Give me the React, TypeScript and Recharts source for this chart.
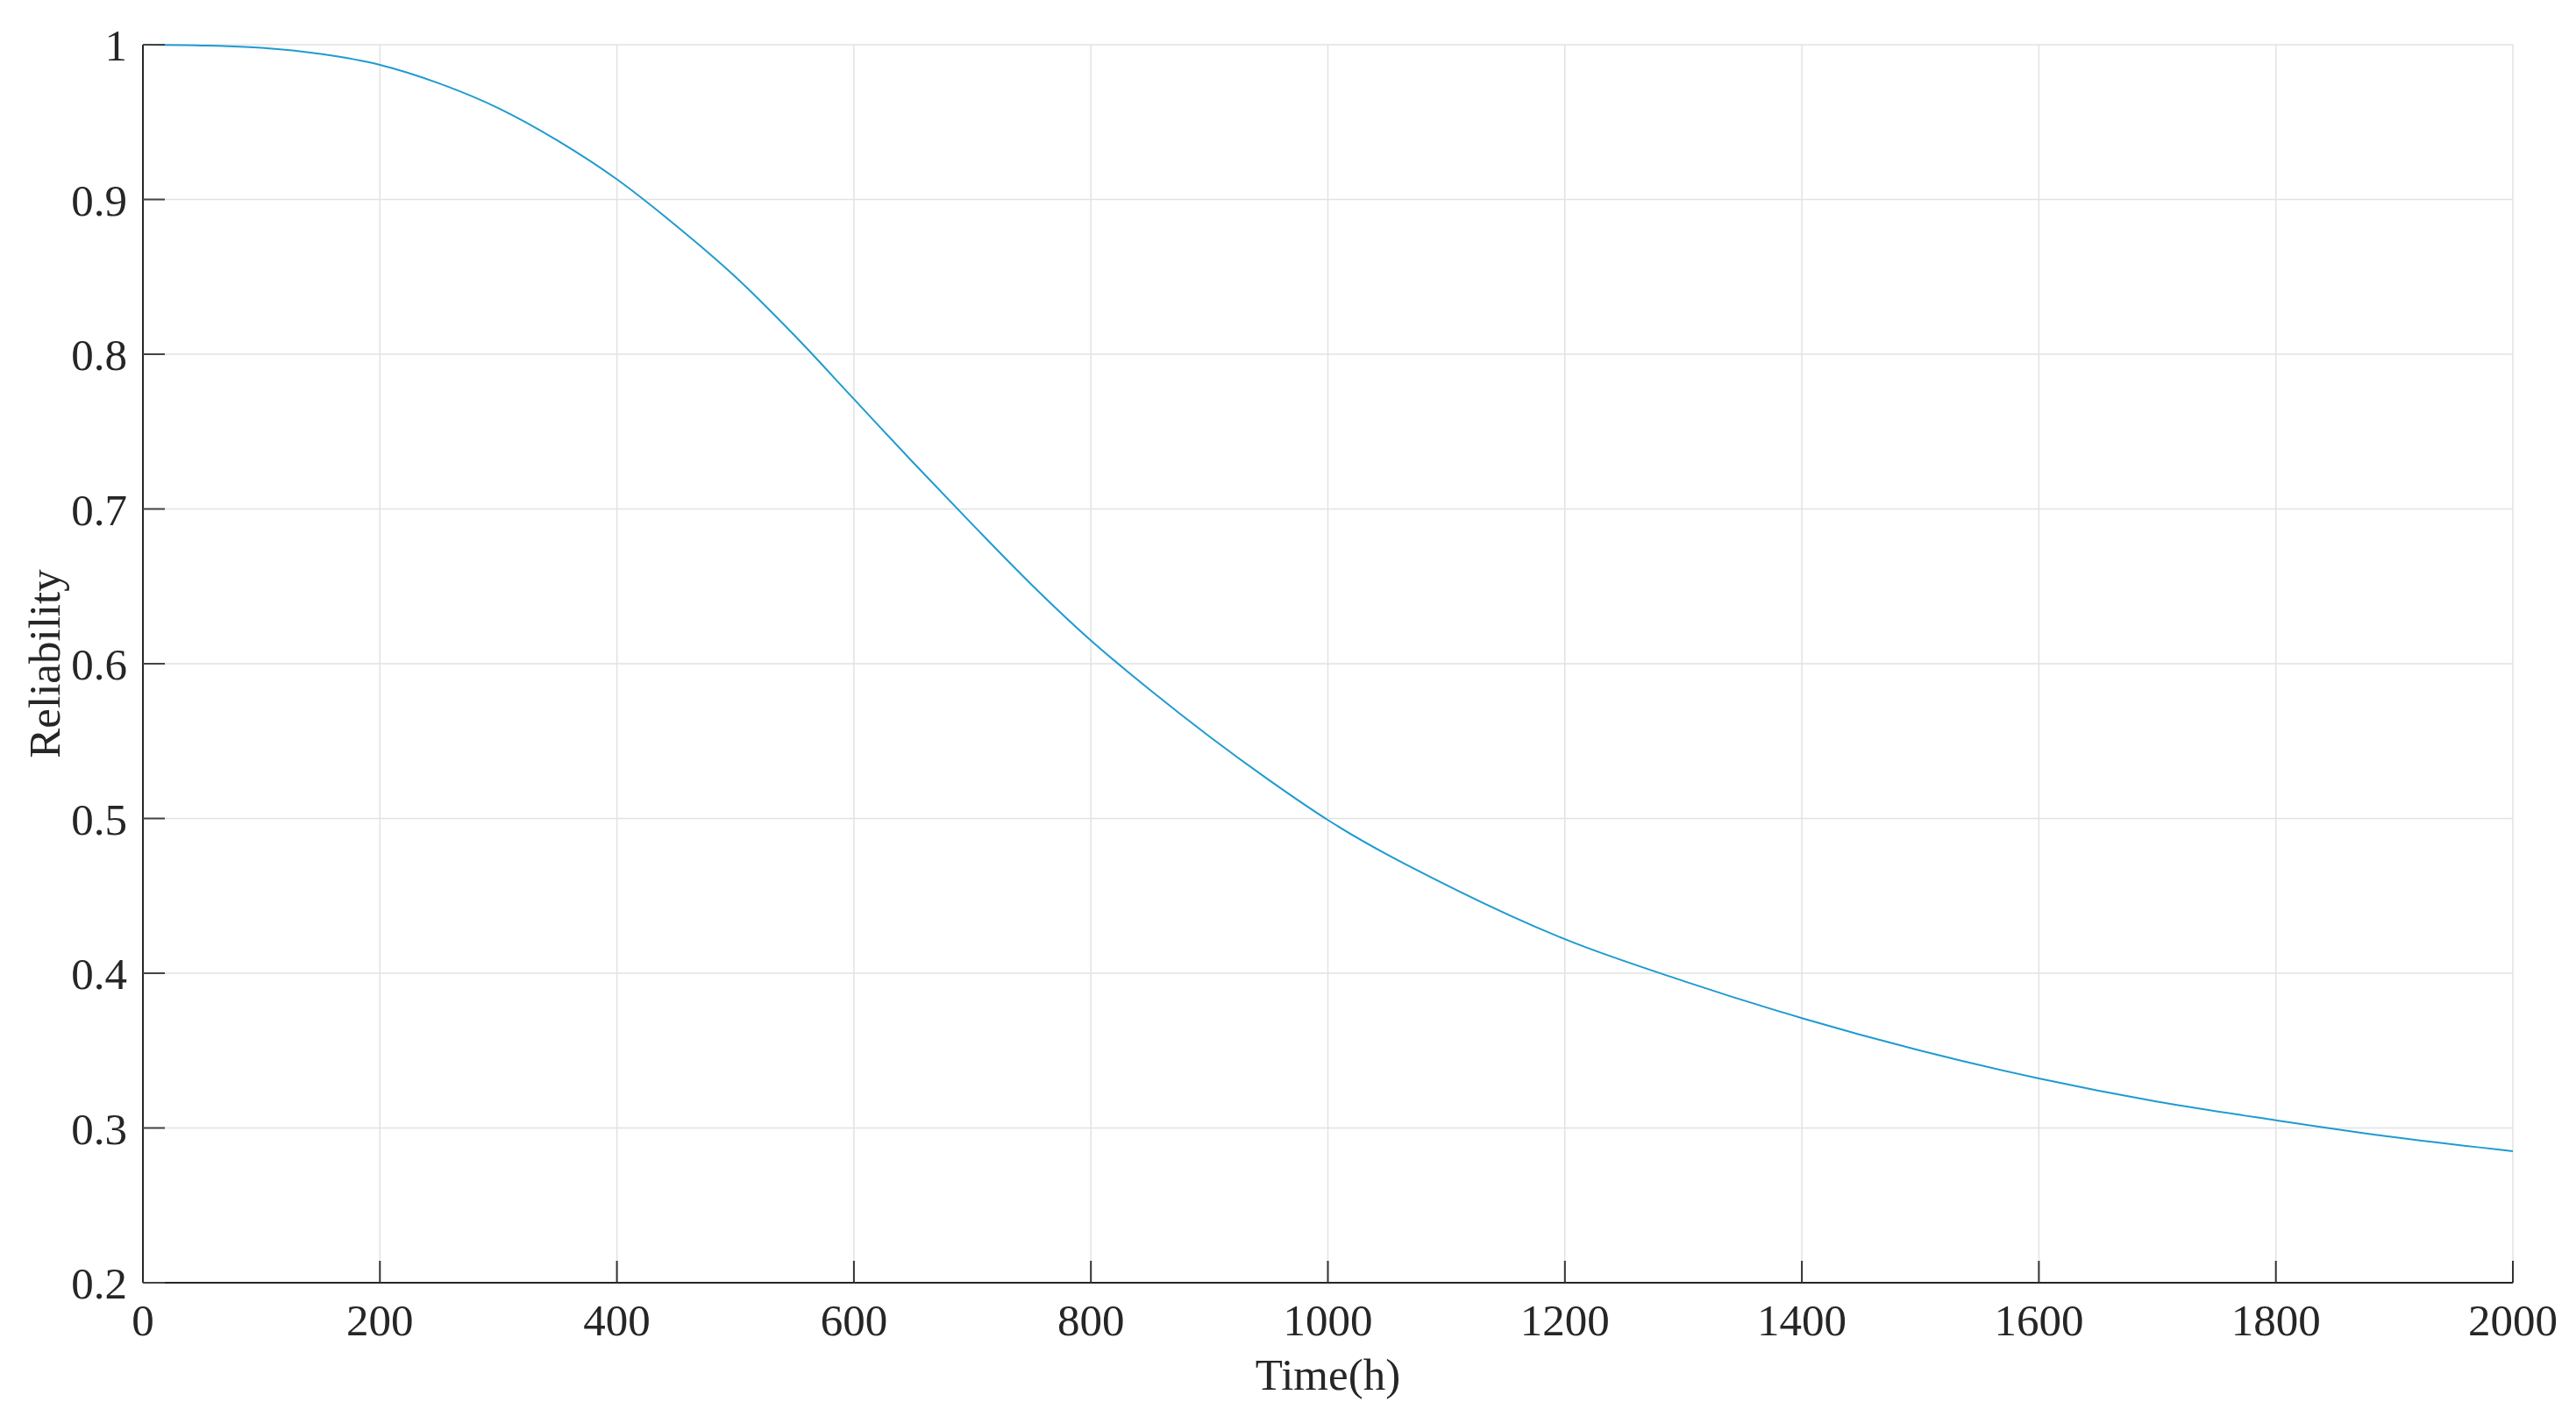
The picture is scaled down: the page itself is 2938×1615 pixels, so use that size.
import React from 'react';
import { LineChart, Line, XAxis, YAxis, CartesianGrid } from 'recharts';

// values
const timeHours = [
  0, 50, 100, 150, 200, 250, 300, 350, 400, 450, 500, 550, 600, 650, 700, 750, 800, 850, 900, 950,
  1000, 1100, 1200, 1300, 1400, 1500, 1600, 1700, 1800, 1900, 2000,
];
const reliability = [
  1.0, 0.9995, 0.998, 0.994, 0.987, 0.975, 0.959, 0.938, 0.913, 0.883, 0.85, 0.812, 0.771, 0.73,
  0.69, 0.651, 0.615, 0.583, 0.553, 0.525, 0.499, 0.457, 0.422, 0.395, 0.371, 0.35, 0.332, 0.317,
  0.305, 0.294, 0.285,
];
const xTicks = [0, 200, 400, 600, 800, 1000, 1200, 1400, 1600, 1800, 2000];
const yTicks = [0.2, 0.3, 0.4, 0.5, 0.6, 0.7, 0.8, 0.9, 1];

const chartData = timeHours.map((t, i) => ({ t, r: reliability[i] }));

const FONT = "'Liberation Serif', 'Times New Roman', serif";
const INK = '#262626';
const tickStyle = { fill: INK, fontSize: 51, fontFamily: FONT };
const noLabel = () => '';

export default function App() {
  return (
    <div style={{ position: 'absolute', left: 0, top: 0, width: 2938, height: 1615, background: '#fff' }}>
      <LineChart
        width={2938}
        height={1615}
        data={chartData}
        margin={{ top: 51, right: 72, left: 0, bottom: 0 }}
      >
        <CartesianGrid stroke="#e2e2e2" strokeWidth={1.5} />
        <XAxis
          dataKey="t"
          type="number"
          domain={[0, 2000]}
          ticks={xTicks}
          interval={0}
          height={152}
          tickSize={-25}
          tickMargin={49}
          tick={tickStyle}
          axisLine={{ stroke: INK, strokeWidth: 2 }}
          tickLine={{ stroke: '#333', strokeWidth: 2 }}
          label={{ value: 'Time(h)', position: 'insideBottom', offset: 30, fill: INK, fontSize: 51, fontFamily: FONT }}
        />
        <XAxis
          xAxisId="top"
          orientation="top"
          type="number"
          domain={[0, 2000]}
          ticks={xTicks}
          interval={0}
          height={0}
          tickSize={-25}
          tickFormatter={noLabel}
          axisLine={{ stroke: INK, strokeWidth: 2 }}
          tickLine={{ stroke: '#333', strokeWidth: 2 }}
        />
        <YAxis
          type="number"
          domain={[0.2, 1]}
          ticks={yTicks}
          interval={0}
          width={163}
          tickSize={-25}
          tickMargin={43}
          tick={tickStyle}
          axisLine={{ stroke: INK, strokeWidth: 2 }}
          tickLine={{ stroke: '#444', strokeWidth: 2 }}
          label={{
            value: 'Reliability',
            angle: -90,
            position: 'insideLeft',
            offset: 50,
            fill: INK,
            fontSize: 51,
            fontFamily: FONT,
            style: { textAnchor: 'middle' },
          }}
        />
        <YAxis
          yAxisId="right"
          orientation="right"
          type="number"
          domain={[0.2, 1]}
          ticks={yTicks}
          interval={0}
          width={0}
          tickSize={-25}
          tickFormatter={noLabel}
          axisLine={{ stroke: '#c6c6c6', strokeWidth: 3 }}
          tickLine={{ stroke: '#333', strokeWidth: 2 }}
        />
        <Line
          type="monotone"
          dataKey="r"
          stroke="#1f9bd1"
          strokeWidth={2}
          dot={false}
          activeDot={false}
          isAnimationActive={false}
        />
      </LineChart>
    </div>
  );
}
